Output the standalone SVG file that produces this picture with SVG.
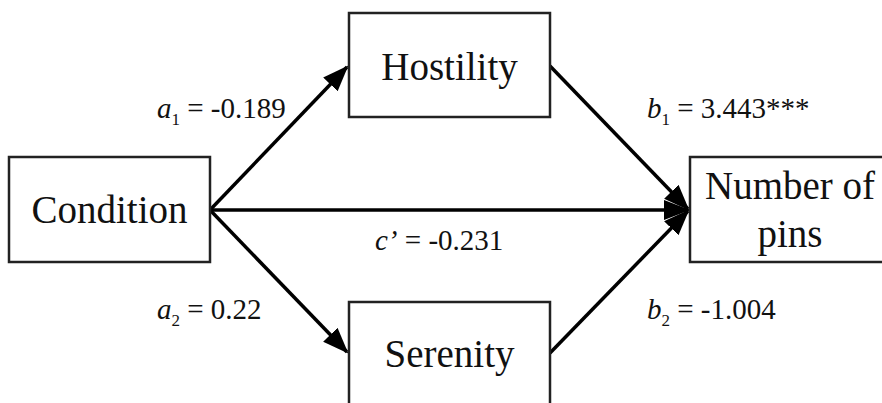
<svg xmlns="http://www.w3.org/2000/svg" width="882" height="403" viewBox="0 0 882 403">
<defs>
<marker id="arr" markerUnits="userSpaceOnUse" markerWidth="30" markerHeight="24" refX="24" refY="10" orient="auto">
<path d="M0,0 L26,10 L0,20 z" fill="#000"/>
</marker>
<style>
.box{fill:#fff;stroke:#222;stroke-width:2.5}
.lbl{font-family:"Liberation Serif","Times New Roman",serif;font-size:39px;fill:#111}
.co{font-family:"Liberation Serif","Times New Roman",serif;font-size:29px;fill:#111}
.it{font-style:italic}
.sub{font-size:17px}
.cn{stroke:#000;stroke-width:3.5;fill:none;marker-end:url(#arr)}
</style>
</defs>
<rect width="882" height="403" fill="#fff"/>
<g id="connectors">
<line class="cn" x1="210" y1="210" x2="347" y2="67"/>
<line class="cn" x1="210" y1="210" x2="347" y2="352"/>
<line class="cn" x1="210" y1="210" x2="688" y2="210"/>
<line class="cn" x1="550" y1="66" x2="688" y2="209"/>
<line class="cn" x1="550" y1="353" x2="688" y2="211"/>
</g>
<g id="condition">
<rect class="box" x="9" y="157" width="201" height="105"/>
<text class="lbl" x="109.5" y="223" text-anchor="middle">Condition</text>
</g>
<g id="hostility">
<rect class="box" x="349" y="13" width="201" height="104"/>
<text class="lbl" x="449.5" y="80" text-anchor="middle">Hostility</text>
</g>
<g id="serenity">
<rect class="box" x="349" y="302" width="201" height="120"/>
<text class="lbl" x="449.5" y="367" text-anchor="middle">Serenity</text>
</g>
<g id="pins">
<rect class="box" x="690" y="157" width="220" height="105"/>
<text class="lbl" x="790" y="199" text-anchor="middle">Number of</text>
<text class="lbl" x="790" y="247" text-anchor="middle">pins</text>
</g>
<g id="labels">
<text class="co" x="157" y="118"><tspan class="it">a</tspan><tspan class="sub" dy="7">1</tspan><tspan dy="-7"> = -0.189</tspan></text>
<text class="co" x="647" y="118"><tspan class="it">b</tspan><tspan class="sub" dy="7">1</tspan><tspan dy="-7"> = 3.443***</tspan></text>
<text class="co" x="375" y="250"><tspan class="it">c’</tspan> = -0.231</text>
<text class="co" x="157" y="319"><tspan class="it">a</tspan><tspan class="sub" dy="7">2</tspan><tspan dy="-7"> = 0.22</tspan></text>
<text class="co" x="647" y="319"><tspan class="it">b</tspan><tspan class="sub" dy="7">2</tspan><tspan dy="-7"> = -1.004</tspan></text>
</g>
</svg>
